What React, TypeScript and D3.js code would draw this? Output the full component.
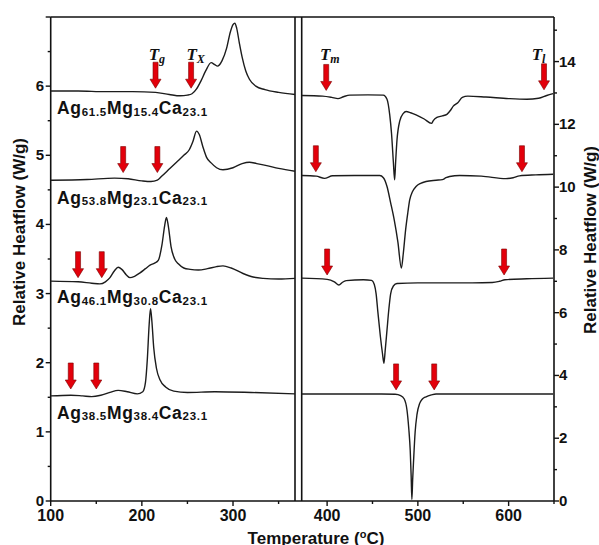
import React from 'react'
import * as d3 from 'd3'

// DSC traces, low-temperature side (left axis, W/g)
const lowAg615: [number, number][] = [[100,5.93],[130,5.93],[160,5.92],[190,5.92],[215,5.91],[230,5.88],[242,5.86],[250,5.87],[255,5.89],[260,5.96],[265,6.08],[270,6.22],[276,6.34],[280,6.31],[283,6.29],[288,6.37],[293,6.55],[297,6.78],[300,6.89],[302,6.91],[304,6.84],[307,6.62],[310,6.42],[314,6.22],[318,6.10],[325,6.00],[335,5.95],[350,5.91],[368,5.88]]
const lowAg538: [number, number][] = [[100,4.64],[140,4.65],[170,4.67],[185,4.66],[200,4.63],[210,4.62],[217,4.64],[222,4.70],[230,4.80],[238,4.90],[246,5.00],[252,5.08],[256,5.20],[260,5.35],[263,5.30],[267,5.12],[271,4.97],[276,4.89],[282,4.82],[289,4.79],[300,4.82],[310,4.88],[318,4.90],[326,4.88],[337,4.85],[350,4.81],[368,4.77]]
const lowAg461: [number, number][] = [[100,3.18],[130,3.17],[145,3.15],[154,3.14],[160,3.17],[165,3.23],[170,3.33],[174,3.38],[178,3.35],[183,3.27],[187,3.23],[192,3.25],[198,3.30],[204,3.36],[209,3.41],[214,3.44],[218,3.48],[222,3.70],[225,3.98],[227,4.10],[229,3.98],[232,3.68],[236,3.50],[240,3.43],[246,3.37],[253,3.35],[262,3.34],[272,3.36],[282,3.39],[289,3.40],[298,3.37],[311,3.29],[322,3.24],[333,3.22],[350,3.21],[368,3.22]]
const lowAg385: [number, number][] = [[100,1.52],[122,1.53],[135,1.52],[145,1.51],[155,1.53],[165,1.57],[174,1.60],[184,1.58],[195,1.55],[201,1.58],[204,1.72],[206,2.05],[208,2.55],[209.5,2.78],[211,2.60],[213,2.22],[216,1.92],[220,1.75],[226,1.65],[235,1.59],[250,1.57],[280,1.58],[320,1.57],[368,1.55]]

// high-temperature side (right axis, W/g)
const highAg615: [number, number][] = [[372,12.92],[395,12.90],[405,12.86],[412,12.82],[418,12.88],[425,12.93],[445,12.94],[462,12.93],[466,12.80],[469,12.30],[471,11.70],[473,10.80],[474.4,10.23],[475.5,10.8],[477,11.5],[480,12.10],[484,12.35],[487,12.41],[492,12.37],[498,12.30],[507,12.17],[515,12.03],[517,12.12],[521,12.22],[527,12.27],[532,12.32],[536,12.45],[539,12.58],[544,12.69],[549,12.86],[555,12.90],[575,12.87],[600,12.82],[620,12.80],[633,12.83],[642,12.92],[649,12.98]]
const highAg538: [number, number][] = [[372,10.37],[388,10.35],[397,10.28],[406,10.36],[430,10.37],[458,10.37],[462,10.30],[466,10.02],[470,9.50],[474,8.95],[478,8.25],[481.8,7.42],[484,7.9],[486.5,8.64],[489,9.20],[491,9.59],[494,9.85],[498,10.02],[503,10.12],[509,10.18],[520,10.22],[527,10.24],[531,10.30],[535,10.34],[546,10.37],[570,10.35],[597,10.27],[605,10.30],[612,10.36],[630,10.39],[649,10.41]]
const highAg461: [number, number][] = [[372,7.10],[400,7.06],[408,6.98],[413,6.88],[417,6.97],[421,7.02],[440,7.05],[449,7.03],[452,6.90],[454,6.6],[456,6.0],[458.7,5.24],[461,4.7],[462.6,4.39],[464,4.8],[466,5.45],[468,6.1],[470,6.6],[473,6.85],[477,6.93],[500,6.95],[560,6.95],[582,6.96],[590,7.00],[596,7.05],[620,7.08],[649,7.10]]
const highAg385: [number, number][] = [[372,3.41],[460,3.41],[475,3.40],[481,3.36],[485,3.25],[488,2.90],[490,2.30],[491.6,1.60],[492.6,0.8],[493.4,0.05],[494.3,0.7],[495.3,1.30],[497,2.20],[499,2.75],[502,3.11],[505,3.25],[509,3.32],[515,3.38],[520,3.41],[649,3.41]]

// arrow tips [temperature, heatflow]
const lowArrows: [number, number][] = [[215,5.97],[254,5.97],[179.5,4.75],[217,4.75],[130,3.23],[156,3.23],[122,1.62],[150,1.62]]
const highArrows: [number, number][] = [[399,13.08],[639,13.1],[387.6,10.49],[614.7,10.49],[400,7.2],[595,7.2],[476,3.54],[518,3.54]]

// T labels: [symbol, subscript, temperature, side]
const tLabels: [string, string, number, string][] = [['T','g',216.5,'low'],['T','X',259,'low'],['T','m',403,'high'],['T','l',633,'high']]

// alloy names as [element, fraction] and where they sit (left axis units)
const alloys: [string, string][][] = [
  [['Ag','61.5'],['Mg','15.4'],['Ca','23.1']],
  [['Ag','53.8'],['Mg','23.1'],['Ca','23.1']],
  [['Ag','46.1'],['Mg','30.8'],['Ca','23.1']],
  [['Ag','38.5'],['Mg','38.4'],['Ca','23.1']],
]
const alloyLabelY = [5.59, 4.30, 2.86, 1.19]

const lowTicks = d3.range(100, 351, 50)
const highTicks = d3.range(400, 651, 50)
const leftYTicks = d3.range(0, 7.01, 0.5)
const rightYTicks = d3.range(0, 15.01, 1)

const bold = 'Liberation Sans, Arial, sans-serif'
const serif = 'Liberation Serif, Times New Roman, serif'

export default function App() {
  const top = 17, bottom = 501
  const xLow = d3.scaleLinear().domain([100, 368]).range([50.7, 295])
  const xHigh = d3.scaleLinear().domain([372, 650]).range([301.7, 554])
  const yLeft = d3.scaleLinear().domain([0, 7]).range([bottom, top])
  const yRight = d3.scaleLinear().domain([0, 15.42]).range([bottom, top])

  const lowLine = d3.line<[number, number]>().x(d => xLow(d[0])).y(d => yLeft(d[1])).curve(d3.curveMonotoneX)
  const highLine = d3.line<[number, number]>().x(d => xHigh(d[0])).y(d => yRight(d[1])).curve(d3.curveMonotoneX)

  const arrow = (x: number, y: number) =>
    `M${x-2.5},${y-26}L${x+2.5},${y-26}L${x+2.5},${y-9}L${x+5.5},${y-9}L${x},${y}L${x-5.5},${y-9}L${x-2.5},${y-9}Z`

  const curveStyle = { fill: 'none', stroke: '#1c1c1c', strokeWidth: 1.4 }

  return (
    <svg width={599} height={545} style={{ position: 'absolute', left: 0, top: 0, background: '#fff' }}>
      {/* frame */}
      <g stroke="#111" strokeWidth={1.6} fill="none">
        <line x1={50.7} x2={554} y1={top} y2={top} />
        <line x1={50.7} x2={554} y1={bottom} y2={bottom} />
        <line x1={50.7} x2={50.7} y1={top} y2={bottom} />
        <line x1={554} x2={554} y1={top} y2={bottom} />
        <line x1={295} x2={295} y1={top} y2={bottom} />
        <line x1={301.7} x2={301.7} y1={top} y2={bottom} />
      </g>

      {/* x ticks */}
      {lowTicks.map(t => (
        <line key={'lx' + t} x1={xLow(t)} x2={xLow(t)} y1={bottom} y2={bottom + (t % 100 === 0 ? 5 : 3)} stroke="#111" strokeWidth={1.4} />
      ))}
      {highTicks.map(t => (
        <line key={'hx' + t} x1={xHigh(t)} x2={xHigh(t)} y1={bottom} y2={bottom + (t % 100 === 0 ? 5 : 3)} stroke="#111" strokeWidth={1.4} />
      ))}
      {lowTicks.filter(t => t % 100 === 0).map(t => (
        <text key={'lxl' + t} x={xLow(t)} y={520.5} textAnchor="middle" fontFamily={bold} fontWeight="bold" fontSize={16} fill="#111">{t}</text>
      ))}
      {highTicks.filter(t => t % 100 === 0 && t < 650).map(t => (
        <text key={'hxl' + t} x={xHigh(t)} y={520.5} textAnchor="middle" fontFamily={bold} fontWeight="bold" fontSize={16} fill="#111">{t}</text>
      ))}

      {/* y ticks */}
      {leftYTicks.map(v => (
        <line key={'ly' + v} x1={50.7} x2={50.7 - (v % 1 === 0 ? 5 : 3)} y1={yLeft(v)} y2={yLeft(v)} stroke="#111" strokeWidth={1.4} />
      ))}
      {leftYTicks.filter(v => v % 1 === 0 && v < 7).map(v => (
        <text key={'lyl' + v} x={44} y={yLeft(v) + 5} textAnchor="end" fontFamily={bold} fontWeight="bold" fontSize={15} fill="#111">{v}</text>
      ))}
      {rightYTicks.map(v => (
        <line key={'ry' + v} x1={554} x2={554 + (v % 2 === 0 ? 5 : 3)} y1={yRight(v)} y2={yRight(v)} stroke="#111" strokeWidth={1.4} />
      ))}
      {rightYTicks.filter(v => v % 2 === 0).map(v => (
        <text key={'ryl' + v} x={559} y={yRight(v) + 5} textAnchor="start" fontFamily={bold} fontWeight="bold" fontSize={15} fill="#111">{v}</text>
      ))}

      {/* axis titles */}
      <text transform="translate(25,232) rotate(-90)" textAnchor="middle" fontFamily={bold} fontWeight="bold" fontSize={17} fill="#111">Relative Heatflow (W/g)</text>
      <text transform="translate(596,240) rotate(-90)" textAnchor="middle" fontFamily={bold} fontWeight="bold" fontSize={17} fill="#111">Relative Heatflow (W/g)</text>
      <text x={316} y={544} textAnchor="middle" fontFamily={bold} fontWeight="bold" fontSize={17} fill="#111">
        Temperature (<tspan fontSize={11} dy={-6}>o</tspan><tspan dy={6}>C)</tspan>
      </text>

      {/* curves */}
      {[lowAg615, lowAg538, lowAg461, lowAg385].map((d, i) => (
        <path key={'lc' + i} d={lowLine(d) || ''} style={curveStyle} />
      ))}
      {[highAg615, highAg538, highAg461, highAg385].map((d, i) => (
        <path key={'hc' + i} d={highLine(d) || ''} style={curveStyle} />
      ))}

      {/* arrows */}
      {lowArrows.map((a, i) => (
        <path key={'la' + i} d={arrow(xLow(a[0]), yLeft(a[1]))} fill="#e3000b" stroke="#7a0000" strokeWidth={0.6} />
      ))}
      {highArrows.map((a, i) => (
        <path key={'ha' + i} d={arrow(xHigh(a[0]), yRight(a[1]))} fill="#e3000b" stroke="#7a0000" strokeWidth={0.6} />
      ))}

      {/* T labels */}
      {tLabels.map(([s, sub, t, side]) => (
        <text key={sub} x={side === 'low' ? xLow(t) : xHigh(t)} y={60} textAnchor="middle"
          fontFamily={serif} fontWeight="bold" fontStyle="italic" fontSize={17} fill="#111">
          {s}<tspan fontSize={12} dy={3}>{sub}</tspan>
        </text>
      ))}

      {/* alloy labels */}
      {alloys.map((parts, i) => (
        <text key={'al' + i} x={57} y={yLeft(alloyLabelY[i])} fontFamily={bold} fontWeight="bold" fontSize={17.5} fill="#111" letterSpacing={0.7}>
          {parts.map(([el, fr], j) => (
            <React.Fragment key={j}>
              <tspan dy={j === 0 ? 0 : -1.5}>{el}</tspan>
              <tspan fontSize={11.5} dy={1.5}>{fr}</tspan>
            </React.Fragment>
          ))}
        </text>
      ))}
    </svg>
  )
}
